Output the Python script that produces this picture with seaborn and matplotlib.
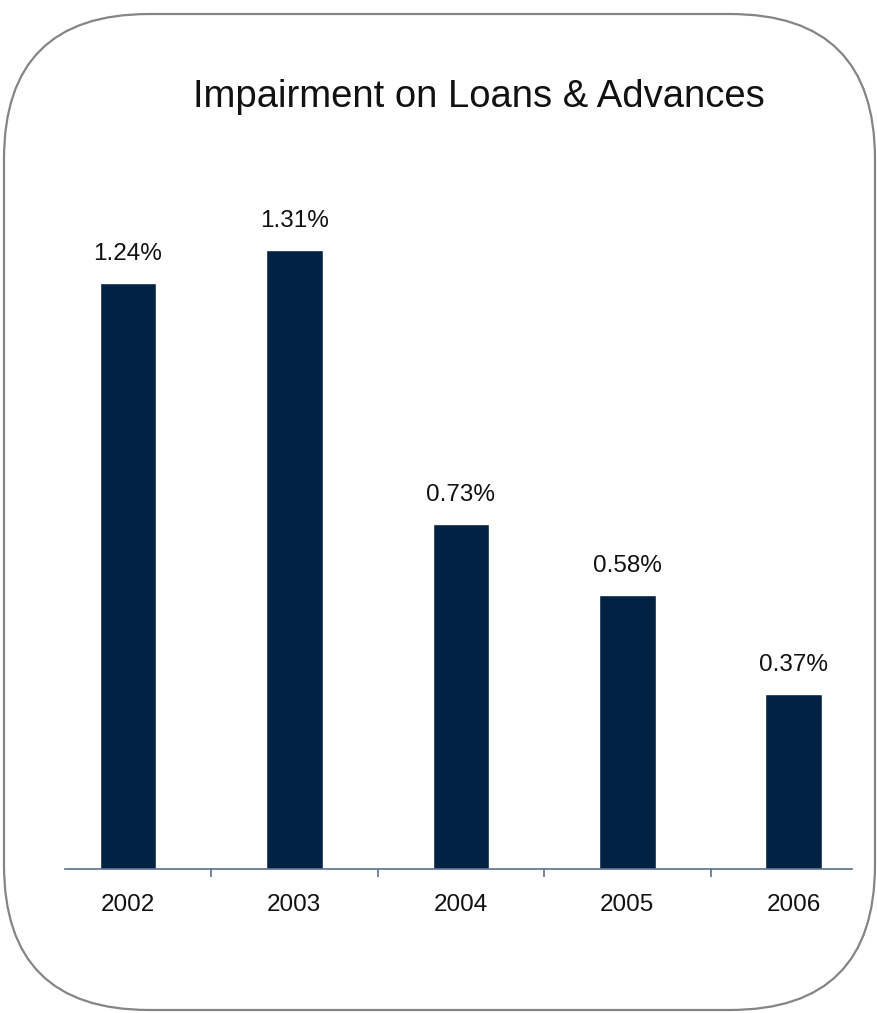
import matplotlib
matplotlib.use("Agg")
import matplotlib.pyplot as plt
import seaborn as sns
import pandas as pd
from matplotlib.patches import FancyBboxPatch

# data
years = ["2002", "2003", "2004", "2005", "2006"]
impairment = [1.24, 1.31, 0.73, 0.58, 0.37]
value_labels = ["1.24%", "1.31%", "0.73%", "0.58%", "0.37%"]

df = pd.DataFrame({"year": years, "pct": impairment})

sns.set_theme(style="white")
plt.rcParams["font.family"] = ["Liberation Sans", "DejaVu Sans"]

fig = plt.figure(figsize=(8.78, 10.13), dpi=100)

# rounded frame drawn in pixel units on a background axes
bg = fig.add_axes([0, 0, 1, 1])
bg.set_xlim(0, 878)
bg.set_ylim(0, 1013)
bg.axis("off")
frame = FancyBboxPatch((4, 3), 871, 996,
                       boxstyle="round,pad=0,rounding_size=145",
                       linewidth=1.6, edgecolor="#858585", facecolor="white")
bg.add_patch(frame)

ax = fig.add_axes([0.074, 0.142, 0.896, 0.7004])
ax.patch.set_alpha(0)
sns.barplot(data=df, x="year", y="pct", color="#022244", width=0.34,
            saturation=1, ax=ax)

for i, (v, lab) in enumerate(zip(impairment, value_labels)):
    ax.text(i, v + 0.038, lab, ha="center", va="bottom", fontsize=17.5, color="#111111")

ax.set_xlim(-0.378, 4.348)
ax.set_ylim(0, 1.5)
ax.set_xlabel("")
ax.set_ylabel("")
ax.set_yticks([])
for side in ["top", "right", "left"]:
    ax.spines[side].set_visible(False)
ax.spines["bottom"].set_color("#5b6f8c")
ax.spines["bottom"].set_linewidth(1.2)

ax.set_xticks(range(len(years)))
ax.set_xticklabels(years, fontsize=17.5, color="#111111")
ax.tick_params(axis="x", which="major", length=0, pad=18)
ax.set_xticks([0.5, 1.5, 2.5, 3.5], minor=True)
ax.tick_params(axis="x", which="minor", length=5.5, width=1.2, color="#5b6f8c",
               direction="out", bottom=True)

fig.text(0.545, 0.904, "Impairment on Loans & Advances", ha="center", va="center",
         fontsize=27.5, color="#111111")

fig.savefig("out.png", dpi=100)
